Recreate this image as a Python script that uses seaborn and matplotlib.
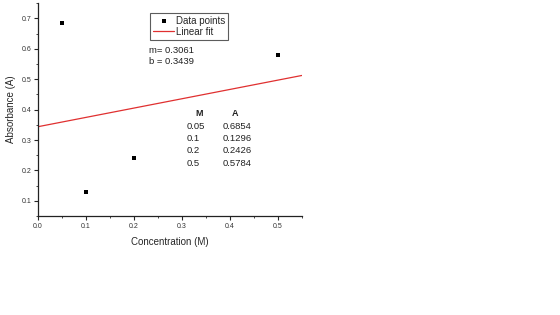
import matplotlib
matplotlib.use("Agg")
import matplotlib.pyplot as plt
import seaborn as sns
import numpy as np
import pandas as pd
from matplotlib.ticker import MultipleLocator

conc = [0.05, 0.1, 0.2, 0.5]
absorb = [0.6854, 0.1296, 0.2426, 0.5784]
slope = 0.3061
intercept = 0.3439
fit_x = [0.0, 0.55]
table_m = ["0.05", "0.1", "0.2", "0.5"]
table_a = ["0.6854", "0.1296", "0.2426", "0.5784"]

sns.set_style("ticks")
plt.rcParams['font.family'] = ['Liberation Sans', 'DejaVu Sans']

fig = plt.figure(figsize=(5.6, 3.15), dpi=100)
ax = fig.add_axes([0.068, 0.314, 0.471, 0.676])

df = pd.DataFrame({"x": conc, "y": absorb})
fit_df = pd.DataFrame({"x": fit_x, "y": [intercept + slope * v for v in fit_x]})

sns.scatterplot(data=df, x="x", y="y", ax=ax, marker="s", s=10, color="black",
                edgecolor="black", linewidth=0, label="Data points", zorder=3)
sns.lineplot(data=fit_df, x="x", y="y", ax=ax, color="#e03030", linewidth=0.9,
             label="Linear fit")

ax.set_xlim(0, 0.55)
ax.set_ylim(0.05, 0.75)
ax.xaxis.set_major_locator(MultipleLocator(0.1))
ax.xaxis.set_minor_locator(MultipleLocator(0.05))
ax.yaxis.set_major_locator(MultipleLocator(0.1))
ax.yaxis.set_minor_locator(MultipleLocator(0.05))
ax.set_yticks([0.1, 0.2, 0.3, 0.4, 0.5, 0.6, 0.7])
ax.tick_params(axis="both", which="major", labelsize=5, length=3, width=0.8,
               labelcolor="#333333", pad=2)
ax.tick_params(axis="both", which="minor", length=1.5, width=0.6)
for s in ["top", "right"]:
    ax.spines[s].set_visible(False)
for s in ["left", "bottom"]:
    ax.spines[s].set_linewidth(0.9)
    ax.spines[s].set_color("#222222")

ax.set_xlabel("Concentration (M)", fontsize=7, labelpad=5)
ax.set_ylabel("Absorbance (A)", fontsize=7, labelpad=4)

leg = ax.legend(loc="upper left", bbox_to_anchor=(0.424, 0.955), fontsize=7,
                frameon=True, fancybox=False, edgecolor="#333333",
                handlelength=2.2, handletextpad=0.2, borderpad=0.3,
                borderaxespad=0.0, labelspacing=0.1, markerscale=1.0)
leg.get_frame().set_linewidth(0.8)

ax.text(0.42, 0.80, "m= 0.3061\nb = 0.3439", transform=ax.transAxes,
        fontsize=6.8, va="top", ha="left", linespacing=1.3, color="#222222")

rows_y = [0.48, 0.423, 0.365, 0.307, 0.249]
ax.text(0.61, rows_y[0], "M", transform=ax.transAxes, fontsize=6.5,
        fontweight="bold", ha="center", va="center", color="#222222")
ax.text(0.745, rows_y[0], "A", transform=ax.transAxes, fontsize=6.5,
        fontweight="bold", ha="center", va="center", color="#222222")
for i, (m, a) in enumerate(zip(table_m, table_a)):
    ax.text(0.565, rows_y[i + 1], m, transform=ax.transAxes, fontsize=6.8,
            ha="left", va="center", color="#222222")
    ax.text(0.7, rows_y[i + 1], a, transform=ax.transAxes, fontsize=6.8,
            ha="left", va="center", color="#222222")

fig.savefig("out.png", dpi=100)
